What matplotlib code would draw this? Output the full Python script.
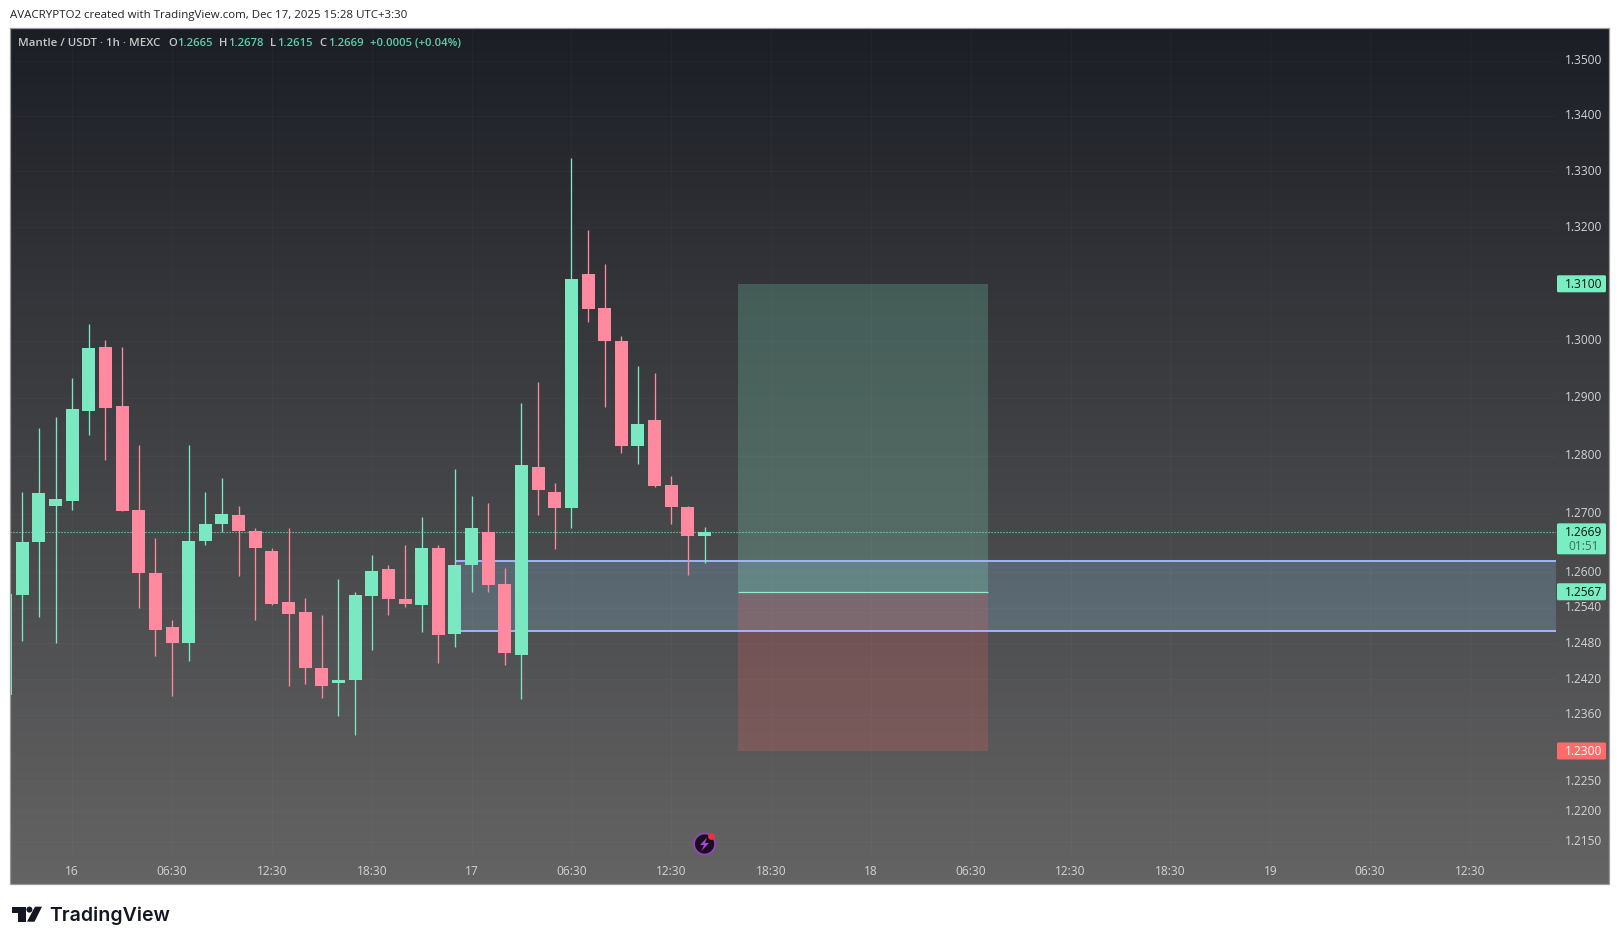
import numpy as np
import matplotlib
matplotlib.use("Agg")
import matplotlib.pyplot as plt
from matplotlib.patches import Rectangle, FancyBboxPatch, Polygon, Circle

# ---------- data ----------
opens = [1.2394,1.2561,1.2651,1.2714,1.2721,1.2878,1.2988,1.2885,1.2706,1.2598,1.2507,
         1.2481,1.2653,1.2683,1.2697,1.2671,1.2637,1.2549,1.2532,1.2439,1.2413,1.2418,
         1.2559,1.2605,1.2554,1.2544,1.2641,1.2496,1.2613,1.2669,1.2581,1.2461,1.2781,
         1.2738,1.2710,1.3118,1.3057,1.3000,1.2816,1.2861,1.2750,1.2712,1.2662]
highs = [1.2564,1.2738,1.2847,1.2866,1.2934,1.3030,1.3001,1.2988,1.2818,1.2658,1.2520,
         1.2818,1.2737,1.2762,1.2713,1.2675,1.2642,1.2675,1.2557,1.2527,1.2588,1.2566,
         1.2629,1.2613,1.2647,1.2695,1.2647,1.2776,1.2730,1.2719,1.2607,1.2891,1.2927,
         1.2753,1.3325,1.3195,1.3135,1.3008,1.2955,1.2943,1.2765,1.2714,1.2678]
lows = [1.2394,1.2483,1.2525,1.2480,1.2706,1.2835,1.2793,1.2704,1.2539,1.2459,1.2392,
        1.2451,1.2647,1.2668,1.2593,1.2520,1.2544,1.2409,1.2411,1.2389,1.2359,1.2327,
        1.2468,1.2528,1.2542,1.2499,1.2446,1.2474,1.2566,1.2566,1.2443,1.2387,1.2698,
        1.2639,1.2676,1.3032,1.2884,1.2804,1.2785,1.2745,1.2682,1.2596,1.2615]
closes = [1.2564,1.2651,1.2735,1.2725,1.2880,1.2987,1.2882,1.2704,1.2598,1.2503,1.2481,
          1.2653,1.2682,1.2699,1.2670,1.2641,1.2546,1.2529,1.2439,1.2409,1.2419,1.2562,
          1.2603,1.2554,1.2547,1.2642,1.2494,1.2613,1.2675,1.2579,1.2463,1.2783,1.2740,
          1.2710,1.3109,1.3055,1.3000,1.2817,1.2854,1.2748,1.2712,1.2662,1.2669]

price_ticks = [1.35,1.34,1.33,1.32,1.30,1.29,1.28,1.27,1.26,1.254,1.248,1.242,1.236,1.225,1.22,1.215]
time_tick_idx = [4,10,16,22,28,34,40,46,52,58,64,70,76,82,88]
time_tick_labels = ["16","06:30","12:30","18:30","17","06:30","12:30","18:30","18",
                    "06:30","12:30","18:30","19","06:30","12:30"]

target_price, entry_price, stop_price = 1.31, 1.2567, 1.23
pos_start, pos_end = 44, 59.05
zone_top, zone_bottom = 1.262, 1.25
zone_start, zone_end = 27, 93.2
last_close = 1.2669

W, H = 1620, 944
UP, DOWN = "#7AE8C0", "#FF8AA0"
FONT = "Open Sans"
FS = 8.6
plt.rcParams["font.family"] = [FONT, "DejaVu Sans"]

fig = plt.figure(figsize=(W/100, H/100), dpi=100, facecolor="white")

def rect_px(x0, y0, x1, y1):
    return [x0/W, 1-y1/H, (x1-x0)/W, (y1-y0)/H]

# gradient pane background
bg = fig.add_axes(rect_px(10, 27.5, 1609, 883.5), zorder=0)
t = np.linspace(0, 1, 512)
stops = [0, 0.32, 1]
grad = np.stack([np.interp(t, stops, [27, 53, 100]),
                 np.interp(t, stops, [30, 54, 100]),
                 np.interp(t, stops, [37, 58, 100])], axis=-1)[:, None, :]/255
bg.imshow(grad, aspect="auto", extent=[0, 1, 0, 1])
bg.axis("off")

# main price axes (log scale)
ax = fig.add_axes(rect_px(10, 27.9, 1556, 855.4), zorder=1)
ax.patch.set_alpha(0)
ax.set_yscale("log")
ax.set_xlim(0.261, 93.17)
ax.set_ylim(1.2128, 1.3560)
for s in ax.spines.values():
    s.set_visible(False)
ax.set_yticks(price_ticks)
ax.set_yticks([], minor=True)
ax.set_yticklabels([f"{p:.4f}" for p in price_ticks])
ax.yaxis.tick_right()
ax.set_xticks(time_tick_idx)
ax.set_xticklabels(time_tick_labels)
ax.tick_params(axis="y", length=0, pad=6.6, labelsize=FS, labelcolor="#D4D4D4")
ax.tick_params(axis="x", length=0, pad=7.0, labelsize=FS, labelcolor="#D4D4D4")
ax.yaxis.set_minor_formatter(matplotlib.ticker.NullFormatter())
for lab in ax.get_yticklabels():
    lab.set_verticalalignment("center")
ax.grid(True, color="white", alpha=0.022, lw=0.7, zorder=0)
ax.set_axisbelow(True)

# position tool
ax.fill_between([pos_start, pos_end], entry_price, target_price, color=(140/255, 1, 211/255), alpha=0.2, lw=0, zorder=3)
ax.fill_between([pos_start, pos_end], stop_price, entry_price, color=(1, 100/255, 100/255), alpha=0.2, lw=0, zorder=3)
ax.plot([pos_start, pos_end], [entry_price]*2, color="#8CF0CC", lw=0.9, zorder=4, solid_capstyle="butt")

# support zone
ax.fill_between([zone_start, zone_end], zone_bottom, zone_top, color=(150/255, 215/255, 1), alpha=0.2, lw=0, zorder=2)
for p in (zone_top, zone_bottom):
    ax.plot([zone_start, zone_end], [p, p], color="#A0B4FF", lw=1.4, zorder=4, solid_capstyle="butt")

# last price line
ax.axhline(last_close, color=UP, lw=0.8, ls=(0, (1, 1.7)), zorder=3)

# candles
idx = np.arange(len(opens))
o, h, l, c = map(np.array, (opens, highs, lows, closes))
cols = [UP if ci >= oi else DOWN for oi, ci in zip(o, c)]
ax.vlines(idx, l, h, colors=cols, lw=0.95, zorder=5)
ax.bar(idx, np.abs(c-o), bottom=np.minimum(o, c), width=0.78, color=cols, lw=0, zorder=6)

# overlay in pixels for chrome
ov = fig.add_axes([0, 0, 1, 1], zorder=5)
ov.set_xlim(0, W)
ov.set_ylim(H, 0)
ov.axis("off")
ov.patch.set_alpha(0)
ov.add_patch(Rectangle((10, 27.5), 1599, 856, fc="none", ec="#9A9A9A", lw=0.9))

def ypx(p):
    return H - ax.transData.transform((1, p))[1]

def tag(price, fc, tc, extra=None):
    y = ypx(price)
    y1 = y + (22.5 if extra else 8.5)
    ov.add_patch(FancyBboxPatch((1557, y-8.5), 49, y1-y+8.5, boxstyle="round,pad=0,rounding_size=1.5",
                                fc=fc, ec="none", zorder=3))
    ov.text(1583.2, y+0.6, f"{price:.4f}", color=tc, fontsize=FS, ha="center", va="center", zorder=4)
    if extra:
        ov.text(1583.2, y+15, extra, color="#3E6E60", fontsize=FS, ha="center", va="center", zorder=4)

tag(target_price, "#7AEEC2", "#101010")
tag(last_close, "#7AEEC2", "#101010", "01:51")
tag(entry_price, "#7AEEC2", "#101010")
tag(stop_price, "#FF6B6B", "#FFFFFF")

# header and legend
ov.text(10, 15.3, "AVACRYPTO2 created with TradingView.com, Dec 17, 2025 15:28 UTC+3:30",
        fontsize=8.28, color="#222222", ha="left", va="center")
LEG_Y = 43
GRN = "#5CCFA8"
GRY = "#C8C8C8"
ov.text(18, LEG_Y, "Mantle / USDT · 1h · MEXC", fontsize=8.28, color=GRY, va="center", fontweight="semibold")
for lab, val, xl, xv in [("O", "1.2665", 168, 177.5), ("H", "1.2678", 219, 228),
                         ("L", "1.2615", 270, 277), ("C", "1.2669", 319, 328)]:
    ov.text(xl, LEG_Y, lab, fontsize=8.1, color=GRY, va="center", fontweight="semibold")
    ov.text(xv, LEG_Y, val, fontsize=8.1, color=GRN, va="center", fontweight="semibold")
ov.text(370, LEG_Y, "+0.0005 (+0.04%)", fontsize=8.1, color=GRN, va="center", fontweight="semibold")

# lightning badge
ov.add_patch(Circle((704.6, 844), 10.5, fc="#17101C", ec="#9A3FC0", lw=1.3, zorder=3))
ov.add_patch(Polygon([(707, 837.5), (700, 845), (704, 845), (701.5, 851), (709, 843), (705, 843)],
                     closed=True, fc="#B040E0", ec="none", zorder=4))
ov.add_patch(Circle((711.5, 836.5), 3.4, fc="#F0303A", ec="none", zorder=5))

# TradingView logo
ov.add_patch(Polygon([(12.3, 906.7), (25.7, 906.7), (25.7, 921.7), (18.3, 921.7), (18.3, 912.5), (12.3, 912.5)],
                     closed=True, fc="#131722", ec="none"))
ov.add_patch(Circle((29.4, 909.6), 3.0, fc="#131722", ec="none"))
ov.add_patch(Polygon([(35, 906.7), (42, 906.7), (34.5, 921.7), (27, 921.7)], closed=True, fc="#131722", ec="none"))
ov.text(48.8, 920.8, "TradingView", fontsize=14.05, color="#131722", family="Inter", fontweight="semibold",
        ha="left", va="baseline")

fig.savefig("out.png", dpi=100)
